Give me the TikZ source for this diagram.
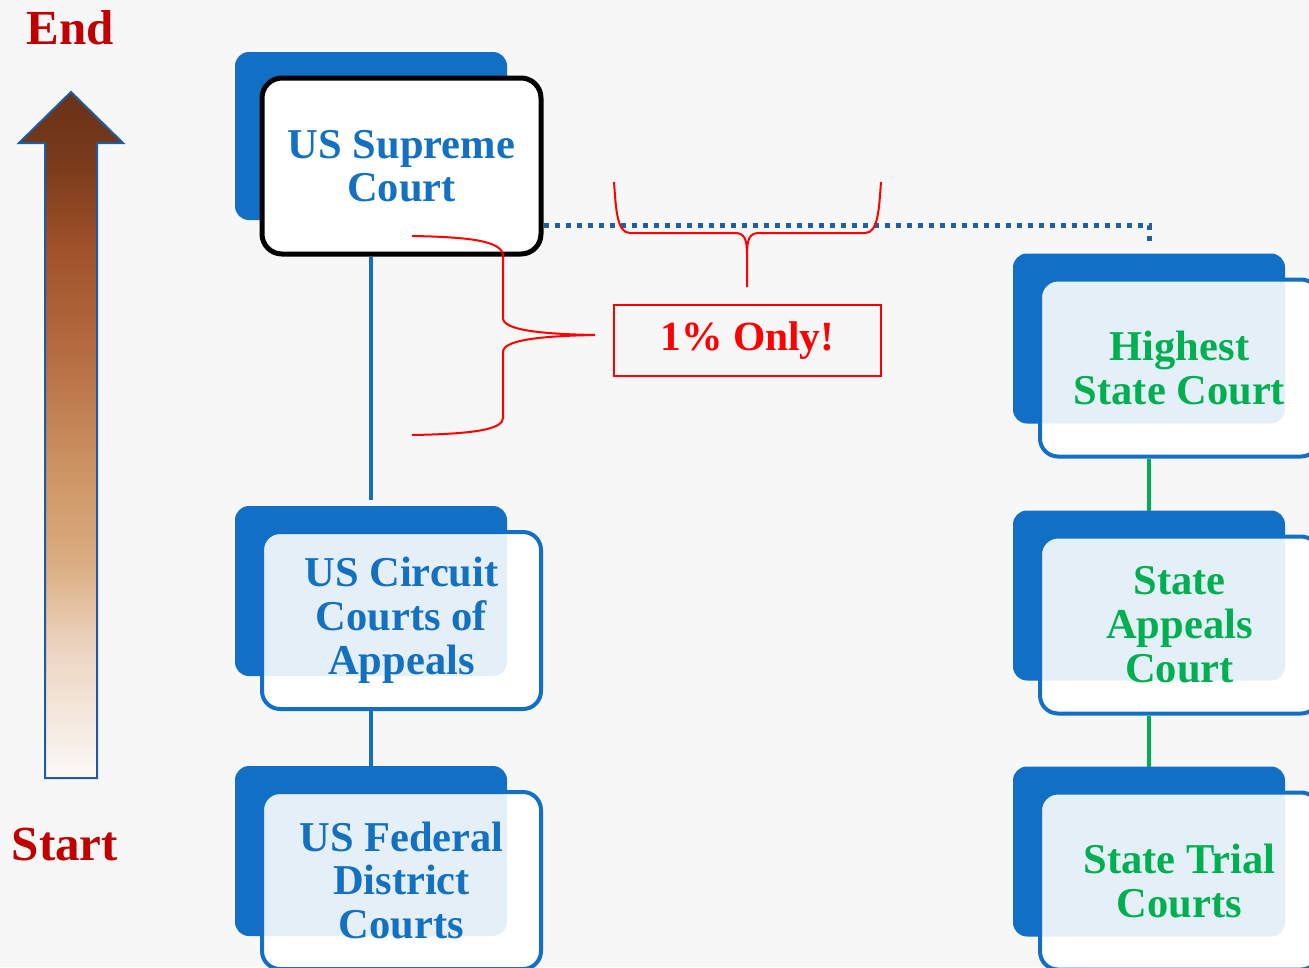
\documentclass[tikz,border=0pt]{standalone}
\usepackage{fontspec}
\setmainfont{Liberation Serif}
\usetikzlibrary{calc,backgrounds}
\definecolor{boxblue}{RGB}{18,111,198}
\definecolor{txtblue}{RGB}{20,112,192}
\definecolor{lightbl}{RGB}{229,239,248}
\definecolor{stgreen}{RGB}{0,176,80}
\definecolor{darkred}{RGB}{192,0,0}
\definecolor{dotblue}{RGB}{30,96,166}
\definecolor{bgray}{RGB}{247,247,247}
\definecolor{arrowedge}{RGB}{30,92,160}
\definecolor{arA}{RGB}{252,249,246}
\definecolor{arB}{RGB}{236,214,193}
\definecolor{arC}{RGB}{218,172,128}
\definecolor{arD}{RGB}{205,148,98}
\definecolor{arE}{RGB}{180,108,62}
\definecolor{arF}{RGB}{160,82,42}
\definecolor{arG}{RGB}{120,58,26}
\definecolor{arH}{RGB}{105,50,24}
\pgfdeclareverticalshading{arrowshade}{100bp}{%
  color(0bp)=(arA);
  color(25bp)=(arA);
  color(34.3bp)=(arB);
  color(40.9bp)=(arC);
  color(47.45bp)=(arD);
  color(56.2bp)=(arE);
  color(63.5bp)=(arF);
  color(70.05bp)=(arG);
  color(75bp)=(arH);
  color(100bp)=(arH)}
\newcommand\courtfont{\bfseries\fontsize{42.5}{44}\selectfont}
\tikzset{
  court/.style={rounded corners=18pt, draw=boxblue, line width=4pt, fill=white,
    minimum width=279pt, minimum height=177pt, inner sep=0pt, font=\courtfont,
    align=center, text=#1,
    path picture={\fill[lightbl, rounded corners=14pt]
      ($(path picture bounding box.north west)+(-27,-26)$) rectangle
      ($(path picture bounding box.south east)+(-34,-33)$);}},
  supbox/.style={rounded corners=20pt, draw=black, line width=5pt, fill=white,
    minimum width=279pt, minimum height=176pt, inner sep=0pt, font=\courtfont,
    align=center, text=txtblue},
  backbox/.style={fill=boxblue, rounded corners=14pt},
  link/.style={line width=4pt},
  dotline/.style={draw=dotblue, line width=5pt, dash pattern=on 5pt off 6pt},
  bracepath/.style={draw=red, line width=2pt},
  endlabel/.style={text=darkred, font=\bfseries\fontsize{49}{52}\selectfont},
  onlybox/.style={draw=red, line width=2pt, minimum width=267pt, minimum height=71pt,
    text=red, font=\bfseries\fontsize{41.5}{44}\selectfont},
}
\newcommand\courtbox[4]{%
  \fill[backbox] ($(#2)+(-166.5,-114.5)$) rectangle ($(#2)+(105.5,55.5)$);
  \node[court=#4] (#1) at (#2) {#3};
}
\begin{document}
\begin{tikzpicture}[x=1pt,y=-1pt]
\useasboundingbox (0,0) rectangle (1309,967);
\begin{scope}[on background layer]
  \fill[bgray] (0,0) rectangle (1309,967);
\end{scope}
% arrow
\path[shading=arrowshade, draw=arrowedge, line width=2pt]
  (45,778) -- (45,143) -- (19,143) -- (71,92) -- (123,143) -- (97,143) -- (97,778) -- cycle;
\node[endlabel] (endl) at (70,28) {End};
\node[endlabel] (startl) at (65,845) {Start};
% supreme
\fill[backbox] (235,52) rectangle (507,220);
\node[supbox] (sup) at (401.5,166) {US Supreme\\[-1pt]Court};
% federal column
\courtbox{cir}{401.5,620.5}{US Circuit\\Courts of\\Appeals}{txtblue}
\courtbox{dis}{401.5,880.5}{US Federal\\District\\Courts}{txtblue}
% state column
\courtbox{hsc}{1179.5,368}{Highest\\State Court}{stgreen}
\courtbox{sac}{1179.5,625}{State\\Appeals\\Court}{stgreen}
\courtbox{stc}{1179.5,881}{State Trial\\Courts}{stgreen}
% connectors
\begin{scope}[on background layer]
  \draw[link, boxblue] ($(sup.south)+(-30.5,0)$) -- ($(cir.north)+(-30.5,-30)$);
  \draw[link, boxblue] ($(cir.south)+(-30.5,0)$) -- ($(dis.north)+(-30.5,0)$);
  \draw[link, stgreen] ($(hsc.south)+(-30.5,0)$) -- ($(sac.north)+(-30.5,0)$);
  \draw[link, stgreen] ($(sac.south)+(-30.5,0)$) -- ($(stc.north)+(-30.5,0)$);
\end{scope}
\coordinate (dotend) at ($(hsc.north)+(-30.5,-35)$);
\draw[dotline] ($(sup.south east)+(0,-31.5)$) -| (dotend);
% only box
\node[onlybox] (only) at (747.5,340.5) {1\% Only!};
% braces
\draw[bracepath] (412,236) .. controls (470,237) and (503,241) .. (503,256) -- (503,318)
  .. controls (503,330) and (540,334) .. (595,335)
  .. controls (540,336) and (503,340) .. (503,352) -- (503,418)
  .. controls (503,430) and (470,434) .. (412,435);
\draw[bracepath] (614,182) .. controls (616,210) and (617,233) .. (630,233) -- (735,233)
  .. controls (745,233) and (747,240) .. (747,255) -- (747,287);
\draw[bracepath] (881,182) .. controls (879,210) and (878,233) .. (865,233) -- (759,233)
  .. controls (749,233) and (747,240) .. (747,255);
\end{tikzpicture}
\end{document}
